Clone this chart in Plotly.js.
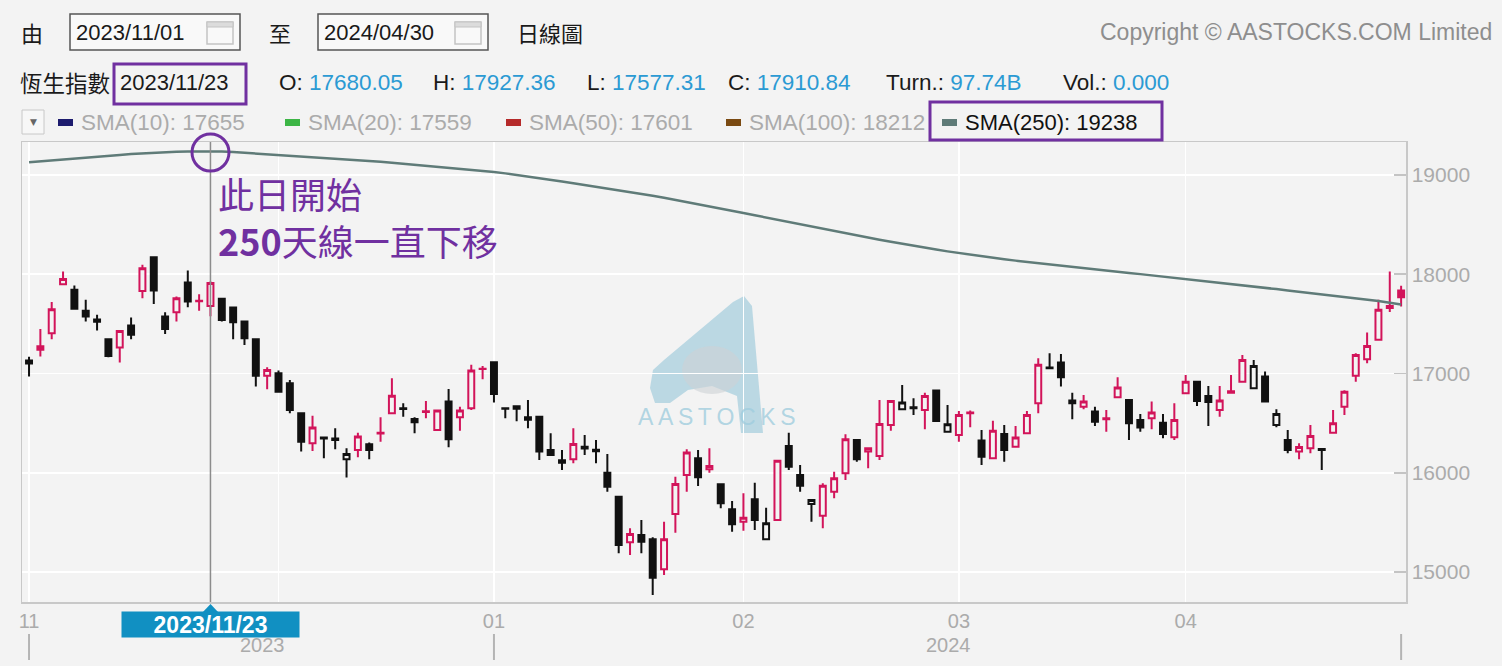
<!DOCTYPE html>
<html><head><meta charset="utf-8">
<script src="https://cdn.plot.ly/plotly-3.0.1.min.js"></script>
<style>html,body{margin:0;padding:0;background:#f3f3f3;overflow:hidden}#chart{width:1502px;height:666px}</style>
</head><body><div id="chart"></div>
<script>
// ---- data ----
const monthTickIdx = [0, 22, 41, 63, 82, 102];
const monthTickText = ["11", "12", "01", "02", "03", "04"];
const yTickVals = [15000, 16000, 17000, 18000, 19000];
const openP = [17130,17275,17406,17900,17843,17631,17545,17346,17261,17483,
17832,18172,17573,17618,17916,17728,17680.05,17752,17664,17523,
17346,16976,17003,16902,16600,16297,16356,16345,16136,16230,
16287,16395,16600,16650,16542,16612,16431,16717,16559,16650,
17045,17114,16650,16670,16560,16565,16230,16125,16136,16262,
16232,16001,15759,15299,15373,15330,15027,15585,15978,16146,
16035,15884,15632,15507,15733,15330,15524,16270,15978,15685,
15568,15809,15995,16331,16213,16169,16482,16640,16660,16633,
16828,16414,16381,16600,16324,16146,16391,16263,16398,16700,
17060,17110,16727,16666,16616,16540,16761,16734,16532,16549,
16505,16358,16801,16918,16774,16633,16805,16918,16852,16969,
16482,16331,16213,16247,16240,16404,16666,16976,17144,17339,
17680,17836];
const highP = [17168,17449,17719,18027,17886,17742,17591,17356,17439,17563,
18095,18178,17618,17775,18037,17799,17927.36,17759,17674,17533,
17356,17063,17029,16935,16606,16575,16362,16449,16247,16404,
16304,16559,16952,16700,16559,16724,16633,16845,16666,17087,
17076,17120,16660,16676,16734,16572,16398,16230,16449,16381,
16331,16189,15766,15440,15524,15350,15507,15961,16237,16230,
16247,15890,15716,15793,15900,15648,16129,16404,16079,15730,
15894,16011,16388,16335,16257,16734,16734,16885,16751,16807,
16830,16683,16623,16626,16431,16525,16482,16472,16623,17154,
17204,17197,16807,16784,16666,16633,16963,16734,16593,16717,
16593,16700,16986,16918,16875,16875,16986,17187,17137,17019,
16640,16431,16297,16482,16245,16633,16830,17204,17412,17742,
18027,17883];
const lowP = [16969,17170,17346,17890,17641,17523,17432,17164,17110,17346,
17759,17701,17399,17523,17668,17631,17577.31,17523,17346,17288,
16868,16842,16808,16600,16213,16220,16146,16237,15951,16156,
16136,16313,16593,16565,16398,16549,16431,16257,16424,16633,
16942,16707,16549,16520,16449,16129,16170,16028,16096,16179,
16096,15809,15188,15171,15188,14768,14970,15396,15809,15867,
16001,15642,15406,15416,15423,15330,15520,16028,15809,15507,
15440,15743,15927,16112,16045,16129,16424,16630,16583,16438,
16515,16414,16313,16459,16079,16136,16112,16260,16398,16600,
17050,16868,16539,16640,16472,16414,16750,16331,16414,16438,
16348,16331,16801,16673,16472,16565,16800,16908,16852,16707,
16459,16196,16136,16196,16028,16404,16583,16918,17104,17339,
17620,17674];
const closeP = [17101,17240,17648,17953,17651,17573,17520,17177,17429,17389,
18061,17836,17449,17759,17725,17734,17910.84,17540,17517,17356,
16976,17036,16817,16633,16313,16455,16345,16330,16189,16364,
16230,16402,16777,16643,16509,16620,16628,16338,16626,17029,
17047,16794,16646,16645,16535,16213,16179,16100,16290,16244,
16217,15860,15272,15383,15305,14943,15330,15887,16203,15955,
16068,15692,15481,15547,15524,15491,16122,16061,15870,15726,
15870,15944,16338,16136,16247,16492,16724,16707,16650,16774,
16522,16489,16583,16608,16162,16424,16230,16354,16583,17087,
17053,16963,16700,16717,16515,16548,16858,16499,16455,16606,
16391,16532,16918,16722,16712,16727,16820,17137,17076,16717,
16593,16230,16260,16371,16230,16499,16817,17187,17278,17641,
17660,17769];
const sma250 = [19128,19138,19148,19158,19167,19177,19186,19194,19202,19210,
19217,19224,19230,19234,19236,19238,19238,19236,19231,19224,
19215,19206,19200,19194,19188,19182,19176,19169,19161,19152,
19143,19134,19124,19114,19104,19094,19084,19074,19064,19054,
19043,19030,19016,19001,18985,18968,18951,18934,18917,18900,
18882,18864,18846,18828,18810,18791,18771,18750,18728,18706,
18684,18661,18639,18617,18594,18571,18548,18525,18503,18480,
18458,18436,18414,18392,18370,18348,18327,18306,18286,18267,
18248,18230,18213,18196,18180,18165,18151,18137,18124,18110,
18097,18085,18073,18061,18049,18037,18025,18013,18001,17989,
17977,17965,17953,17941,17928,17915,17902,17889,17876,17863,
17850,17837,17824,17811,17798,17785,17772,17759,17745,17730,
17712,17695];
const selIdx = 16; // 2023/11/23

// ---- build traces ----
const RED = '#d2145a', BLK = '#111111', BG = '#f3f3f3';
const idx = openP.map((_, i) => i);
function pick(arr, list) { return list.map(i => arr[i]); }
const redList = [], blackList = [];
idx.forEach(i => {
  const ref = i > 0 ? closeP[i - 1] : openP[i];
  (closeP[i] >= ref ? redList : blackList).push(i);
});
function candle(list, col) {
  return {
    type: 'candlestick', x: list, open: pick(openP, list), high: pick(highP, list),
    low: pick(lowP, list), close: pick(closeP, list),
    increasing: {line: {color: col, width: 2}, fillcolor: BG},
    decreasing: {line: {color: col, width: 2}, fillcolor: col},
    whiskerwidth: 0, showlegend: false, hoverinfo: 'skip'
  };
}
const traces = [
  {type: 'scatter', mode: 'lines', x: idx, y: sma250, line: {color: '#5f7b78', width: 2.5}, showlegend: false, hoverinfo: 'skip'},
  candle(redList, RED),
  candle(blackList, BLK)
];

// ---- layout helpers (pixel -> paper) ----
const L = 22, R = 1406, T = 142, B = 602;
const XR = [-0.62, 121.43];
const px = x => (x - L) / (R - L);
const py = y => (B - y) / (B - T);
const ix = i => (i - XR[0]) / (XR[1] - XR[0]);
const FONT = 'Liberation Sans, Arial, sans-serif';
const CJK = 'Noto Sans CJK TC, Noto Sans CJK SC, sans-serif';
const anns = [];
function txt(text, x, y, o) {
  o = o || {};
  anns.push({text, xref: 'paper', yref: 'paper', x: o.xi !== undefined ? ix(o.xi) : px(x), y: py(y),
    xanchor: o.xa || 'left', yanchor: o.ya || 'middle', showarrow: false,
    font: {family: o.fam || FONT, size: o.size || 22, color: o.color || '#1a1a1a', weight: o.weight},
    bgcolor: o.bg, width: o.w, height: o.h, borderpad: o.bp || 0, align: o.align || 'left'});
}
const shapes = [];
function rect(x0, y0, x1, y1, line, fill, lw) {
  shapes.push({type: 'rect', xref: 'paper', yref: 'paper', x0: px(x0), x1: px(x1), y0: py(y1), y1: py(y0),
    line: {color: line || 'rgba(0,0,0,0)', width: lw === undefined ? 1 : lw}, fillcolor: fill || 'rgba(0,0,0,0)', layer: 'above'});
}
function pathP(pts, fill, layer) {
  const d = pts.map((p, k) => (k ? 'L' : 'M') + px(p[0]).toFixed(5) + ',' + py(p[1]).toFixed(5)).join(' ') + ' Z';
  shapes.push({type: 'path', xref: 'paper', yref: 'paper', path: d, fillcolor: fill, line: {color: 'rgba(0,0,0,0)', width: 0}, layer: layer || 'below'});
}
const BLUE = '#2b9ad3', PURPLE = '#7030a0', GREYTXT = '#ababab';

// row 1
txt('由', 20, 32, {fam: CJK, size: 22});
rect(70, 14, 240, 50, '#555555', '#f9f9f9', 1.5);
txt('2023/11/01', 75, 32, {size: 22});
rect(318, 14, 488, 50, '#555555', '#f9f9f9', 1.5);
txt('2024/04/30', 323, 32, {size: 22});
[207, 455].forEach(cx => {
  rect(cx, 22, cx + 26, 44, '#c4c4c4', null, 1.5);
  rect(cx, 22, cx + 26, 27, '#c4c4c4', '#dcdcdc', 1);
});
txt('至', 268, 32, {fam: CJK, size: 22});
txt('日線圖', 516, 32, {fam: CJK, size: 22});
txt('Copyright © AASTOCKS.COM Limited', 1493, 32, {xa: 'right', size: 23, color: '#8e8e8e'});

// row 2
txt('恆生指數', 19, 82, {fam: CJK, size: 22.5});
rect(114, 64, 246, 104, PURPLE, null, 3);
txt('2023/11/23', 119, 82, {size: 22});
const vals = [['O: ', '17680.05', 278], ['H: ', '17927.36', 432], ['L: ', '17577.31', 586], ['C: ', '17910.84', 727],
  ['Turn.: ', '97.74B', 885], ['Vol.: ', '0.000', 1062]];
vals.forEach(v => txt(v[0] + '<span style="color:' + BLUE + '">' + v[1] + '</span>', v[2], 82, {size: 22.5}));

// row 3 legend
rect(22, 110, 44, 134, '#c8c8c8', '#f7f7f7', 1);
txt('▼', 33, 122, {xa: 'center', size: 9, color: '#666666', fam: 'DejaVu Sans'});
const leg = [['SMA(10): 17655', '#1d1b6e', 58], ['SMA(20): 17559', '#3cb545', 285], ['SMA(50): 17601', '#b52a2a', 506], ['SMA(100): 18212', '#7a4a12', 726]];
leg.forEach(l => { rect(l[2], 119, l[2] + 15, 126, null, l[1], 0); txt(l[0], l[2] + 22, 122, {size: 22.5, color: GREYTXT}); });
rect(930, 102, 1162, 140, PURPLE, null, 3);
rect(942, 119, 957, 126, null, '#5f7b78', 0);
txt('SMA(250): 19238', 964, 122, {size: 22, color: '#111111'});

// annotation text on chart (one block, two lines)
anns.push({text: '此日開始<br><b>250</b>天線一直下移', xref: 'paper', yref: 'paper', x: px(216), y: py(216),
  xanchor: 'left', yanchor: 'middle', showarrow: false, align: 'left',
  font: {family: CJK, size: 36, color: PURPLE}});

// crosshair & marker circle
shapes.push({type: 'line', xref: 'x', yref: 'paper', x0: selIdx, x1: selIdx, y0: 0, y1: 1, line: {color: '#8c8c8c', width: 1.5}, layer: 'above'});
shapes.push({type: 'circle', xref: 'paper', yref: 'paper', x0: px(192), x1: px(229), y0: py(171), y1: py(134), line: {color: PURPLE, width: 3}, layer: 'above'});

// date label under axis
pathP([[202, 613], [210.5, 604], [219, 613]], '#1190c2', 'above');
txt('<b>2023/11/23</b>', 0, 624.5, {xi: selIdx, xa: 'center', size: 23, color: '#ffffff', bg: '#1190c2', w: 177, h: 25, align: 'center'});

// year row
[0, 41, 121].forEach(i => shapes.push({type: 'line', xref: 'paper', yref: 'paper', x0: ix(i), x1: ix(i), y0: py(660), y1: py(634), line: {color: '#b4b4b4', width: 2}}));
txt('2023', 262, 645, {xa: 'center', size: 20, color: GREYTXT});
txt('2024', 948, 645, {xa: 'center', size: 20, color: GREYTXT});

// watermark
pathP([[655, 403], [650, 388], [653, 370], [664, 360], [733, 302], [744, 296], [752, 306], [763, 433], [741, 433], [737, 396], [712, 386], [688, 390], [670, 403]], 'rgba(150,198,216,0.6)');
shapes.push({type: 'circle', xref: 'paper', yref: 'paper', x0: px(682), x1: px(742), y0: py(394), y1: py(346), fillcolor: 'rgba(205,210,214,0.6)', line: {width: 0}, layer: 'below'});
txt('A\u2009A\u2009S\u2009T\u2009O\u2009C\u2009K\u2009S', 717, 417, {xa: 'center', size: 23, color: 'rgba(160,205,222,0.8)'});

const layout = {
  width: 1502, height: 666,
  paper_bgcolor: BG, plot_bgcolor: BG,
  margin: {l: L, r: 1502 - R, t: T, b: 666 - B, pad: 0},
  showlegend: false, boxgap: 0.25,
  xaxis: {type: 'linear', range: XR, tickmode: 'array', tickvals: monthTickIdx, ticktext: monthTickText,
    showgrid: true, gridcolor: '#ffffff', gridwidth: 1.5, zeroline: false, ticks: '',
    showline: true, linecolor: '#c8c8c8', linewidth: 1.5, mirror: true,
    tickfont: {family: FONT, size: 20, color: GREYTXT}, rangeslider: {visible: false}, fixedrange: true},
  yaxis: {side: 'right', range: [14698, 19332], tickmode: 'array', tickvals: yTickVals,
    ticktext: yTickVals.map(v => String(v)),
    showgrid: true, gridcolor: '#ffffff', gridwidth: 1.5, zeroline: false,
    ticks: 'inside', ticklen: 12, tickwidth: 1.5, tickcolor: '#c4c4c4',
    showline: true, linecolor: '#c8c8c8', linewidth: 1.5, mirror: true,
    tickfont: {family: FONT, size: 21, color: GREYTXT}, fixedrange: true},
  annotations: anns, shapes: shapes
};
Plotly.newPlot('chart', traces, layout, {staticPlot: true, displayModeBar: false});
</script></body></html>
